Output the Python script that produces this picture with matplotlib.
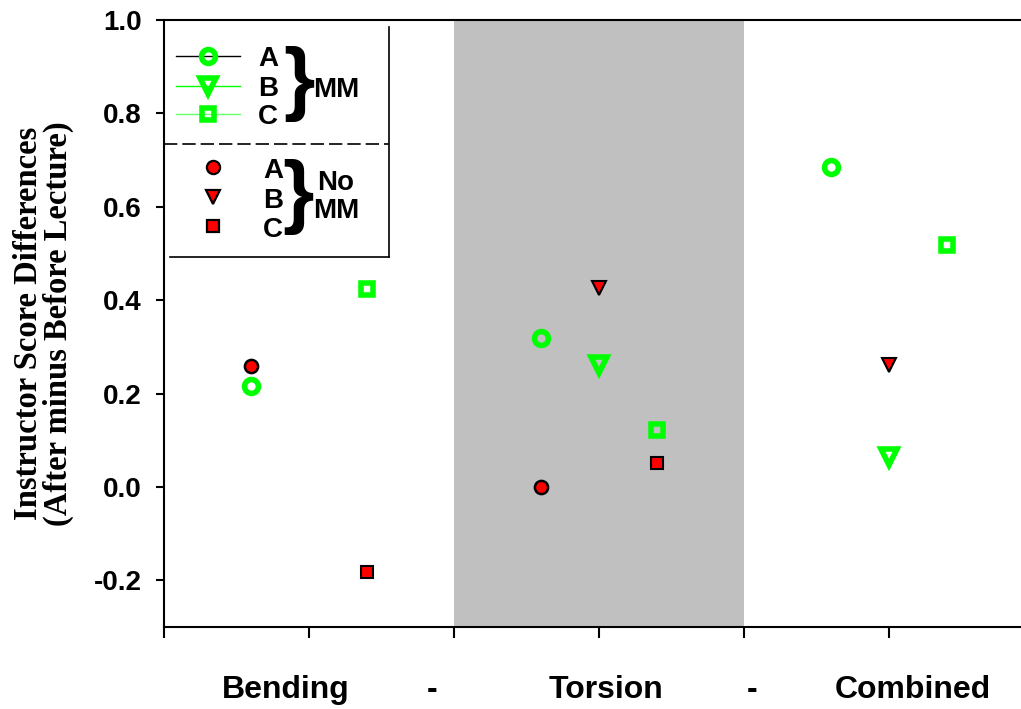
import numpy as np
import matplotlib.pyplot as plt
from matplotlib.lines import Line2D

# MM (green, open) values by instructor
mm_A_x = [0.6, 2.6, 4.6]
mm_A_y = [0.217, 0.320, 0.685]
mm_B_x = [3.0, 5.0]
mm_B_y = [0.262, 0.065]
mm_C_x = [1.4, 3.4, 5.4]
mm_C_y = [0.423, 0.122, 0.518]

# No MM (red, filled) values by instructor
no_A_x = [0.6, 2.6]
no_A_y = [0.258, 0.0]
no_B_x = [3.0, 5.0]
no_B_y = [0.425, 0.262]
no_C_x = [1.4, 3.4]
no_C_y = [-0.183, 0.051]

group_labels = ['Bending', '-', 'Torsion', '-', 'Combined']
yticks = [-0.2, 0.0, 0.2, 0.4, 0.6, 0.8, 1.0]

GREEN = '#00FF00'
RED = '#FF0000'
W, H = 1021, 709

plt.rcParams['font.family'] = ['Liberation Sans', 'DejaVu Sans']
plt.rcParams['font.weight'] = 'bold'

fig = plt.figure(figsize=(W / 100, H / 100), dpi=100)
ax = fig.add_axes([164 / W, 1 - 627 / H, 870 / W, 607 / H])

def px(x, y):
    return x / W, 1 - y / H

ax.axvspan(2, 4, color='#C0C0C0', lw=0, zorder=0)

ax.plot(mm_A_x, mm_A_y, 'o', ls='none', ms=10, mew=4, mec=GREEN, mfc='none', zorder=3)
ax.plot(mm_B_x, mm_B_y, 'v', ls='none', ms=12, mew=4, mec=GREEN, mfc='none', zorder=3)
ax.plot(mm_C_x, mm_C_y, 's', ls='none', ms=9, mew=4, mec=GREEN, mfc='none', zorder=3)
ax.plot(no_A_x, no_A_y, 'o', ls='none', ms=9.5, mew=1.8, mec='black', mfc=RED, zorder=3)
ax.plot(no_B_x, no_B_y, 'v', ls='none', ms=10.5, mew=1.5, mec='black', mfc=RED, zorder=3)
ax.plot(no_C_x, no_C_y, 's', ls='none', ms=9, mew=1.5, mec='black', mfc=RED, zorder=3)

ax.set_xlim(0, 6)
ax.set_ylim(-0.3, 1.0)
ax.set_xticks(np.arange(0, 7))
ax.set_xticklabels([])
ax.set_yticks(yticks)
ax.set_yticklabels([f'{v:.1f}' for v in yticks], fontsize=20, fontweight='bold')
ax.tick_params(axis='y', direction='out', length=6, width=1.5, pad=10)
ax.tick_params(axis='x', direction='out', length=8, width=1.5)
for s in ['left', 'bottom', 'top']:
    ax.spines[s].set_linewidth(1.5)
ax.spines['right'].set_visible(False)

ax.set_ylabel('Instructor Score Differences\n(After minus Before Lecture)',
              family=['Liberation Serif', 'DejaVu Serif'], fontsize=23.5,
              fontweight='bold', linespacing=0.95, labelpad=14)

# group labels under the axis
for lab, xc in zip(group_labels, [286, 432, 606, 752, 913]):
    fig.text(*px(xc, 698), lab, ha='center', va='baseline', fontsize=23, fontweight='bold')

# hand-drawn legend box
lk = dict(transform=fig.transFigure, color='black', lw=1.2)
fig.add_artist(Line2D(*zip(px(389, 27), px(389, 257)), **lk))
fig.add_artist(Line2D(*zip(px(170, 257), px(389, 257)), **lk))
fig.add_artist(Line2D(*zip(px(164, 144), px(389, 144)), ls=(0, (8, 3)), **lk))

leg_mm = [('o', 'black', 56, 'A'), ('v', GREEN, 86, 'B'), ('s', '#66FF66', 114, 'C')]
for m, lc, yy, lab in leg_mm:
    fig.add_artist(Line2D(*zip(px(176, yy), px(240, yy)), transform=fig.transFigure, color=lc, lw=1))
    ms = {'o': 10, 'v': 12, 's': 9}[m]
    fig.add_artist(Line2D(*zip(px(208, yy)), transform=fig.transFigure, marker=m, ms=ms,
                          mew=4, mec=GREEN, mfc='none', ls='none'))
    fig.text(*px(268, yy + 10), lab, ha='center', va='baseline', fontsize=20, fontweight='bold')

leg_no = [('o', 167, 'A', 9.5), ('v', 197, 'B', 10.5), ('s', 226, 'C', 9)]
for m, yy, lab, ms in leg_no:
    fig.add_artist(Line2D(*zip(px(213, yy)), transform=fig.transFigure, marker=m, ms=ms,
                          mew=1.6, mec='black', mfc=RED, ls='none'))
    fig.text(*px(273, yy + 11), lab, ha='center', va='baseline', fontsize=20, fontweight='bold')

fig.text(*px(299, 84), '}', ha='center', va='center', fontsize=58, fontweight='bold')
fig.text(*px(336, 97), 'MM', ha='center', va='baseline', fontsize=20, fontweight='bold')
fig.text(*px(298, 197), '}', ha='center', va='center', fontsize=58, fontweight='bold')
fig.text(*px(336, 190), 'No', ha='center', va='baseline', fontsize=20, fontweight='bold')
fig.text(*px(336, 218), 'MM', ha='center', va='baseline', fontsize=20, fontweight='bold')

fig.savefig('out.png', dpi=100)
